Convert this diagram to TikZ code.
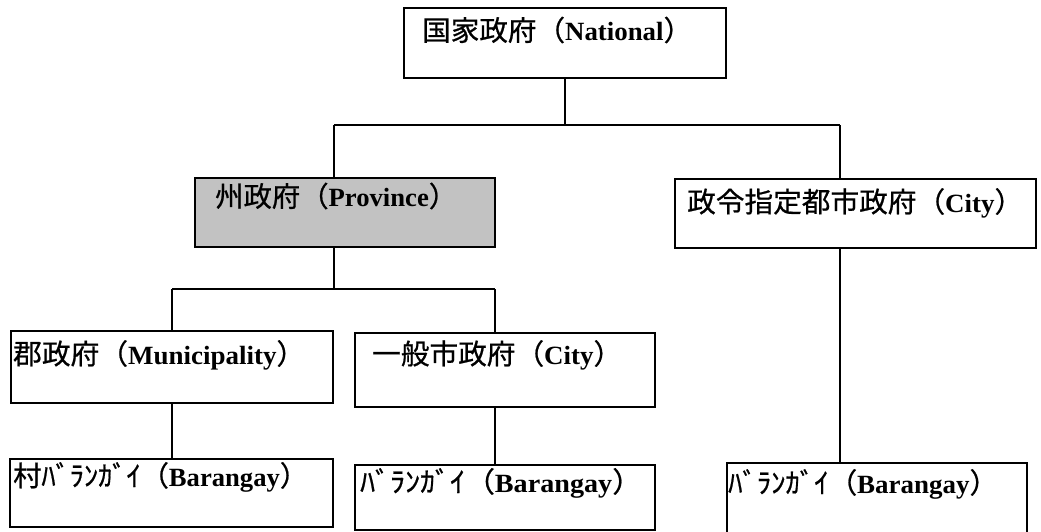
\documentclass[tikz,border=0pt]{standalone}
\usepackage{fontspec}
\usepackage{graphicx}
\setmainfont{Liberation Serif}
\newfontfamily\cjk{Noto Sans CJK JP}[FakeBold=0.7]
\newcommand\jp[1]{{\cjk\mdseries\fontsize{25}{25}\selectfont #1}}
\newcommand\lbltext[2]{\resizebox{#1pt}{1.12\height}{\fontsize{23.5}{23.5}\selectfont\bfseries #2}}
\tikzset{
  box/.style={draw=black, line width=1.3pt, rectangle, inner sep=0pt},
  shaded/.style={box, fill=black!24},
  txt/.style={anchor=west, inner sep=0pt, text=black},
  vline/.style={draw=black, line width=2.3pt},
  hline/.style={draw=black, line width=1.3pt},
}
\begin{document}
\begin{tikzpicture}[x=1pt, y=-1pt]
\useasboundingbox (0,0) rectangle (1041,531);
% boxes
\node[box, minimum width=322pt, minimum height=70pt] (nat) at (565,43) {};
\node[shaded, minimum width=300pt, minimum height=69pt] (prov) at (345,212.5) {};
\node[box, minimum width=361pt, minimum height=69pt] (city) at (855.5,213.5) {};
\node[box, minimum width=322pt, minimum height=72pt] (mun) at (172,367) {};
\node[box, minimum width=300pt, minimum height=74pt] (ipp) at (505,370) {};
\node[box, minimum width=323pt, minimum height=68pt] (vbar) at (171.5,493) {};
\node[box, minimum width=300pt, minimum height=65pt] (ibar) at (505,497.5) {};
\node[box, minimum width=300pt, minimum height=77pt] (cbar) at (877,501.5) {};
% labels
\node[txt] (tnat) at (422,30) {\lbltext{270}{\jp{国家政府（}National\jp{）}}};
\node[txt] (tprov) at (215,196) {\lbltext{242}{\jp{州政府（}Province\jp{）}}};
\node[txt] (tcity) at (687,203) {\lbltext{336}{\jp{政令指定都市政府（}City\jp{）}}};
\node[txt] (tmun) at (13,355) {\lbltext{292}{\jp{郡政府（}Municipality\jp{）}}};
\node[txt] (tipp) at (372,355) {\lbltext{250}{\jp{一般市政府（}City\jp{）}}};
\node[txt] (tvbar) at (13,477) {\lbltext{295}{\jp{村ﾊﾞﾗﾝｶﾞｲ（}Barangay\jp{）}}};
\node[txt] (tibar) at (360,483) {\lbltext{282}{\jp{ﾊﾞﾗﾝｶﾞｲ（}Barangay\jp{）}}};
\node[txt] (tcbar) at (728,484) {\lbltext{270}{\jp{ﾊﾞﾗﾝｶﾞｲ（}Barangay\jp{）}}};
% junctions
\coordinate (jTop) at (565,125);
\coordinate (jTL) at (334,125);
\coordinate (jTR) at (840,125);
\coordinate (jM) at (334,289);
\coordinate (jML) at (172,289);
\coordinate (jMR) at (495,289);
% connectors
\draw[vline] (nat.south) -- (jTop);
\draw[hline] (jTL) -- (jTR);
\draw[vline] (jTL) -- (jTL |- prov.north);
\draw[vline] (jTR) -- (jTR |- city.north);
\draw[vline] (jM |- prov.south) -- (jM);
\draw[hline] (jML) -- (jMR);
\draw[vline] (jML) -- (jML |- mun.north);
\draw[vline] (jMR) -- (jMR |- ipp.north);
\draw[vline] (jML |- mun.south) -- (jML |- vbar.north);
\draw[vline] (jMR |- ipp.south) -- (jMR |- ibar.north);
\draw[vline] (jTR |- city.south) -- (jTR |- cbar.north);
\end{tikzpicture}
\end{document}
